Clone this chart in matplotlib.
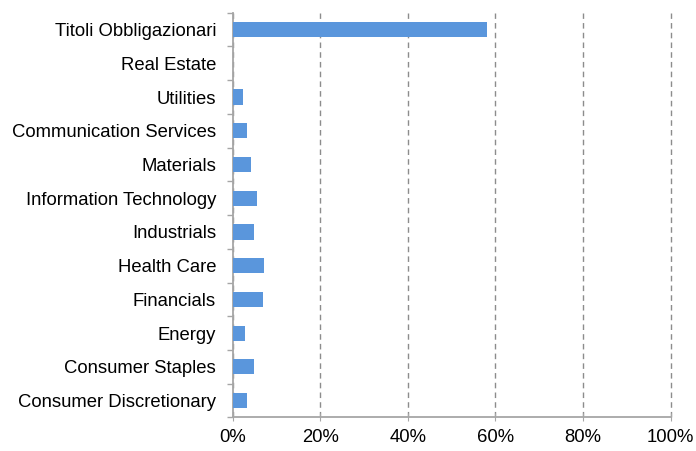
import numpy as np
import matplotlib.pyplot as plt
import matplotlib.ticker as plticker

plt.rcParams['font.family'] = ['Liberation Sans', 'DejaVu Sans']

categories = ['Consumer Discretionary', 'Consumer Staples', 'Energy', 'Financials',
              'Health Care', 'Industrials', 'Information Technology', 'Materials',
              'Communication Services', 'Utilities', 'Real Estate', 'Titoli Obbligazionari']
values = [3.25, 4.85, 2.8, 6.9, 7.1, 4.85, 5.5, 4.2, 3.25, 2.3, 0.0, 58.1]
xticks = [0, 20, 40, 60, 80, 100]

fig = plt.figure(figsize=(6.96, 4.51), dpi=100)
ax = fig.add_axes([0.3343, 0.0743, 0.6293, 0.8975])

y = np.arange(len(categories))
ax.barh(y, values, height=0.45, color='#5a96dc', zorder=3)

ax.set_xlim(0, 100)
ax.set_ylim(-0.5, len(categories) - 0.5)
ax.set_xticks(xticks)
ax.set_xticklabels([f'{t}%' for t in xticks])
ax.set_yticks(y)
ax.set_yticklabels(categories)
ax.yaxis.set_minor_locator(plticker.FixedLocator(np.arange(-0.5, len(categories), 1)))

ax.tick_params(axis='y', which='major', length=0, pad=12, labelsize=13.3)
ax.tick_params(axis='y', which='minor', length=4, color='#a6a6a6', width=1)
ax.tick_params(axis='x', length=6, direction='inout', color='#a6a6a6',
               labelsize=13.3, pad=5)

ax.grid(axis='x', linestyle=(0, (4, 3)), color='#8c8c8c', linewidth=1, zorder=0)
for line in ax.get_xgridlines():
    line.set_clip_on(False)
for s in ['top', 'right']:
    ax.spines[s].set_visible(False)
for s in ['left', 'bottom']:
    ax.spines[s].set_color('#a6a6a6')
    ax.spines[s].set_linewidth(1.3)

fig.savefig('out.png', dpi=100)
